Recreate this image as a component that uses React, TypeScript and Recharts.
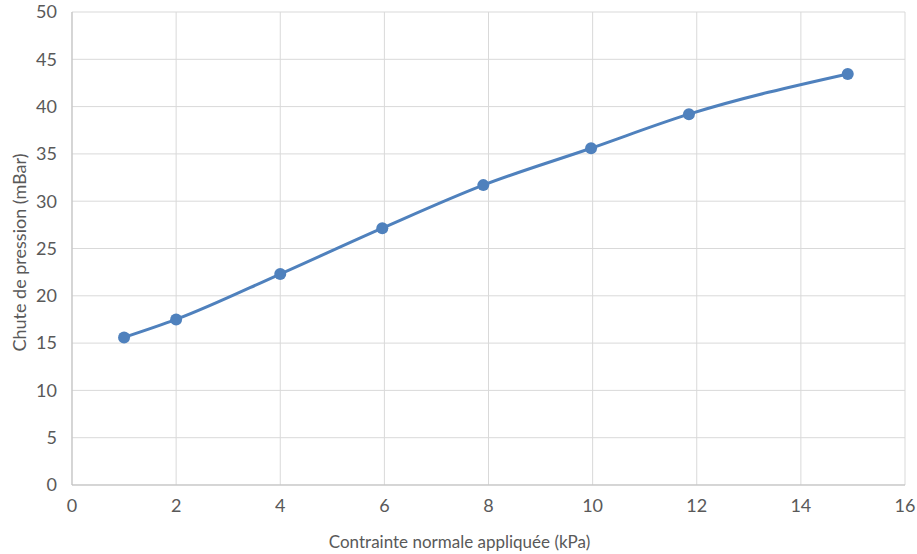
import { LineChart, Line, XAxis, YAxis, CartesianGrid } from "recharts";

// Contrainte normale appliquée (kPa)
const contrainte = [1, 2, 4, 5.96, 7.9, 9.97, 11.85, 14.9];
// Chute de pression (mBar)
const chute = [15.6, 17.5, 22.3, 27.15, 31.7, 35.6, 39.2, 43.45];

const xTicks = [0, 2, 4, 6, 8, 10, 12, 14, 16];
const yTicks = [0, 5, 10, 15, 20, 25, 30, 35, 40, 45, 50];

const data = contrainte.map((x, i) => ({ x, y: chute[i] }));

const font = "Lato, 'Open Sans', sans-serif";
const textColor = "#595959";
const lineColor = "#4f81bd";
const fs = 18;

export default function App() {
  return (
    <div style={{ position: "fixed", left: 0, top: 0, width: 917, height: 554, background: "#fff", fontFamily: font }}>
      <LineChart width={917} height={554} data={data} margin={{ top: 12, right: 12, left: 0, bottom: 0 }}>
        <CartesianGrid stroke="#d9d9d9" strokeWidth={1} />
        <XAxis
          type="number"
          dataKey="x"
          domain={[0, 16]}
          ticks={xTicks}
          interval={0}
          height={69}
          stroke="#bfbfbf"
          tickLine={false}
          tickSize={0}
          tickMargin={14}
          tick={{ fill: textColor, fontSize: fs, fontFamily: font }}
          label={{
            value: "Contrainte normale appliquée (kPa)",
            position: "insideBottom",
            offset: 6,
            dx: -29,
            style: { fill: textColor, fontSize: 17, fontFamily: font },
          }}
        />
        <YAxis
          type="number"
          dataKey="y"
          domain={[0, 50]}
          ticks={yTicks}
          interval={0}
          width={72}
          stroke="#bfbfbf"
          tickLine={false}
          tickSize={0}
          tickMargin={15}
          tick={{ fill: textColor, fontSize: fs, fontFamily: font }}
          label={{
            value: "Chute de pression (mBar)",
            angle: -90,
            position: "insideLeft",
            offset: 20,
            dy: 4,
            style: { fill: textColor, fontSize: fs, fontFamily: font, textAnchor: "middle" },
          }}
        />
        <Line
          type="monotone"
          dataKey="y"
          stroke={lineColor}
          strokeWidth={3}
          dot={{ r: 6, fill: lineColor, stroke: lineColor, strokeWidth: 0 }}
          isAnimationActive={false}
        />
      </LineChart>
    </div>
  );
}
